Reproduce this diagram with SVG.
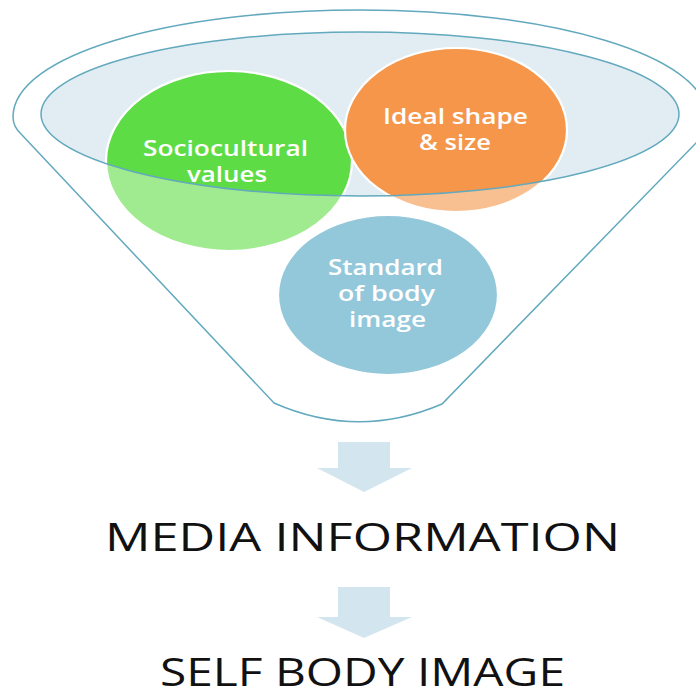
<svg xmlns="http://www.w3.org/2000/svg" width="696" height="698" viewBox="0 0 696 698">
<style>
.ring{stroke:#62A9BE;stroke-width:1.5}
.edge{fill:none;stroke:#ffffff;stroke-width:2.2}
.lbl{font-family:"Open Sans","Liberation Sans",sans-serif;font-size:21px;fill:#ffffff;font-weight:600}
.big{font-family:"Open Sans","Liberation Sans",sans-serif;font-size:38px;fill:#111111}
.arrow{fill:#D3E6EF}
</style>
<defs>
<clipPath id="rim"><ellipse cx="360" cy="114" rx="319" ry="82"/></clipPath>
</defs>
<rect width="696" height="698" fill="#ffffff"/>
<g id="funnel">
<path class="ring" fill="#ffffff" d="M22,135 L274,403 Q358,440 442,404 L697,142 Q707,130 707,117 C707,55 550,10 360,10 C170,10 13,55 13,117 Q13,127 22,135 Z"/>
<ellipse cx="360" cy="114" rx="319" ry="82" fill="#E2EDF3"/>
</g>
<g id="sociocultural">
<ellipse cx="229" cy="161" rx="123" ry="90" fill="#A0EA8F"/>
<ellipse cx="229" cy="161" rx="123" ry="90" fill="#5EDC46" clip-path="url(#rim)"/>
<ellipse class="edge" cx="229" cy="161" rx="123" ry="90"/>
</g>
<g id="ideal">
<ellipse cx="456" cy="130" rx="111" ry="82" fill="#F8BF90"/>
<ellipse cx="456" cy="130" rx="111" ry="82" fill="#F5964A" clip-path="url(#rim)"/>
<ellipse class="edge" cx="456" cy="130" rx="111" ry="82"/>
</g>
<g id="standard">
<ellipse cx="388" cy="295" rx="110" ry="80" fill="#93C8DB"/>
<ellipse class="edge" cx="388" cy="295" rx="110" ry="80"/>
</g>
<g id="rim-line">
<ellipse class="ring" cx="360" cy="114" rx="319" ry="82" fill="none"/>
</g>
<g id="labels">
<text class="lbl" x="143" y="156" textLength="165" lengthAdjust="spacingAndGlyphs">Sociocultural</text>
<text class="lbl" x="187" y="182" textLength="80" lengthAdjust="spacingAndGlyphs">values</text>
<text class="lbl" x="383" y="124" textLength="145" lengthAdjust="spacingAndGlyphs">Ideal shape</text>
<text class="lbl" x="419" y="150" textLength="72" lengthAdjust="spacingAndGlyphs">&amp; size</text>
<text class="lbl" x="328" y="275" textLength="115" lengthAdjust="spacingAndGlyphs">Standard</text>
<text class="lbl" x="338" y="301" textLength="97" lengthAdjust="spacingAndGlyphs">of body</text>
<text class="lbl" x="349" y="327" textLength="77" lengthAdjust="spacingAndGlyphs">image</text>
</g>
<g id="connectors">
<path class="arrow" d="M338,442 H390 V468 H412 L364,492 L317,468 H338 Z"/>
<path class="arrow" d="M338,587 H390 V617 H412 L364,638 L317,617 H338 Z"/>
</g>
<g id="media">
<text class="big" x="105" y="551" textLength="515" lengthAdjust="spacingAndGlyphs">MEDIA INFORMATION</text>
</g>
<g id="self">
<text class="big" x="160" y="686" font-size="36" textLength="405" lengthAdjust="spacingAndGlyphs">SELF BODY IMAGE</text>
</g>
</svg>
